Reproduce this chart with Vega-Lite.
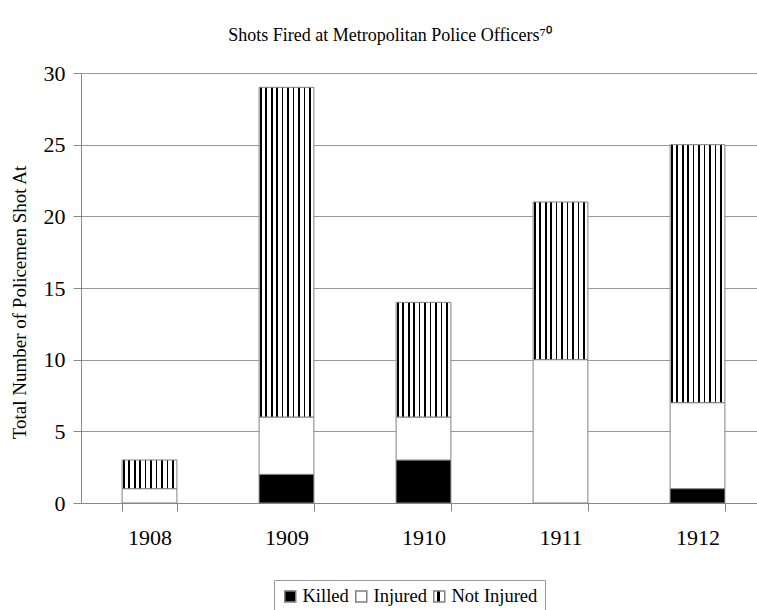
{
  "$schema": "https://vega.github.io/schema/vega-lite/v6.json",
  "autosize": "none",
  "width": 676,
  "height": 430,
  "padding": {"left": 81, "top": 73, "right": 0, "bottom": 107},
  "background": "white",
  "config": {
    "font": "Liberation Serif",
    "view": {"stroke": null},
    "axis": {"labelFont": "Liberation Serif", "titleFont": "Liberation Serif"},
    "legend": {"labelFont": "Liberation Serif", "titleFont": "Liberation Serif"}
  },
  "title": {
    "text": "Shots Fired at Metropolitan Police Officers⁷⁰",
    "font": "Liberation Serif",
    "fontSize": 18,
    "fontWeight": "normal",
    "color": "black",
    "anchor": "middle",
    "frame": "group",
    "dx": -29,
    "baseline": "alphabetic",
    "offset": 3
  },
  "data": {
    "values": [
      {"year": "1908", "type": "Injured", "count": 1, "order": 2},
      {"year": "1908", "type": "Not Injured", "count": 2, "order": 3},
      {"year": "1909", "type": "Killed", "count": 2, "order": 1},
      {"year": "1909", "type": "Injured", "count": 4, "order": 2},
      {"year": "1909", "type": "Not Injured", "count": 23, "order": 3},
      {"year": "1910", "type": "Killed", "count": 3, "order": 1},
      {"year": "1910", "type": "Injured", "count": 3, "order": 2},
      {"year": "1910", "type": "Not Injured", "count": 8, "order": 3},
      {"year": "1911", "type": "Injured", "count": 10, "order": 2},
      {"year": "1911", "type": "Not Injured", "count": 11, "order": 3},
      {"year": "1912", "type": "Killed", "count": 1, "order": 1},
      {"year": "1912", "type": "Injured", "count": 6, "order": 2},
      {"year": "1912", "type": "Not Injured", "count": 18, "order": 3}
    ]
  },
  "mark": {"type": "bar", "stroke": "#808080", "strokeWidth": 1, "fillOpacity": 1},
  "encoding": {
    "x": {
      "field": "year",
      "type": "ordinal",
      "scale": {"range": [0, 685], "paddingInner": 0.6, "paddingOuter": 0.3},
      "axis": {
        "title": null,
        "labelAngle": 0,
        "tickBand": "extent",
        "tickSize": 8,
        "tickColor": "#888888",
        "domainColor": "#888888",
        "labelFont": "Liberation Serif",
        "labelFontSize": 22,
        "labelColor": "black",
        "labelPadding": 16,
        "grid": false
      }
    },
    "y": {
      "field": "count",
      "type": "quantitative",
      "stack": "zero",
      "scale": {"domain": [0, 30], "nice": false},
      "axis": {
        "title": "Total Number of Policemen Shot At",
        "titleFont": "Liberation Serif",
        "titleFontSize": 19,
        "titleFontWeight": "normal",
        "titleColor": "black",
        "titlePadding": 14,
        "titleY": 229,
        "values": [0, 5, 10, 15, 20, 25, 30],
        "tickSize": 8,
        "tickColor": "#888888",
        "domainColor": "#888888",
        "gridColor": "#999999",
        "labelFont": "Liberation Serif",
        "labelFontSize": 22,
        "labelColor": "black",
        "labelPadding": 8
      }
    },
    "fill": {
      "field": "type",
      "type": "nominal",
      "scale": {
        "domain": ["Killed", "Injured", "Not Injured"],
        "range": [
          "black",
          "white",
          {"expr": "{gradient: 'linear', x1: 0, y1: 0, x2: 1, y2: 0, stops: [{offset: 0, color: 'white'}, {offset: 0.015, color: 'white'}, {offset: 0.015, color: 'black'}, {offset: 0.045, color: 'black'}, {offset: 0.045, color: 'white'}, {offset: 0.115, color: 'white'}, {offset: 0.115, color: 'black'}, {offset: 0.145, color: 'black'}, {offset: 0.145, color: 'white'}, {offset: 0.215, color: 'white'}, {offset: 0.215, color: 'black'}, {offset: 0.245, color: 'black'}, {offset: 0.245, color: 'white'}, {offset: 0.315, color: 'white'}, {offset: 0.315, color: 'black'}, {offset: 0.345, color: 'black'}, {offset: 0.345, color: 'white'}, {offset: 0.415, color: 'white'}, {offset: 0.415, color: 'black'}, {offset: 0.445, color: 'black'}, {offset: 0.445, color: 'white'}, {offset: 0.515, color: 'white'}, {offset: 0.515, color: 'black'}, {offset: 0.545, color: 'black'}, {offset: 0.545, color: 'white'}, {offset: 0.615, color: 'white'}, {offset: 0.615, color: 'black'}, {offset: 0.645, color: 'black'}, {offset: 0.645, color: 'white'}, {offset: 0.715, color: 'white'}, {offset: 0.715, color: 'black'}, {offset: 0.745, color: 'black'}, {offset: 0.745, color: 'white'}, {offset: 0.815, color: 'white'}, {offset: 0.815, color: 'black'}, {offset: 0.845, color: 'black'}, {offset: 0.845, color: 'white'}, {offset: 0.915, color: 'white'}, {offset: 0.915, color: 'black'}, {offset: 0.945, color: 'black'}, {offset: 0.945, color: 'white'}, {offset: 1, color: 'white'}]}"}
        ]
      },
      "legend": {
        "title": null,
        "orient": "none",
        "legendX": 193,
        "legendY": 507,
        "direction": "horizontal",
        "symbolType": "square",
        "symbolSize": 121,
        "symbolOpacity": 1,
        "labelFont": "Liberation Serif",
        "labelFontSize": 18.5,
        "labelColor": "black",
        "labelOffset": 3,
        "columnPadding": 3,
        "strokeColor": "#999999",
        "padding": 7,
        "encode": {
          "symbols": {
            "stroke": {"value": "#808080"},
            "strokeWidth": {"value": 1},
            "fillOpacity": {"value": 1},
            "opacity": {"value": 1}
          }
        }
      }
    },
    "order": {"field": "order", "type": "quantitative"}
  }
}
